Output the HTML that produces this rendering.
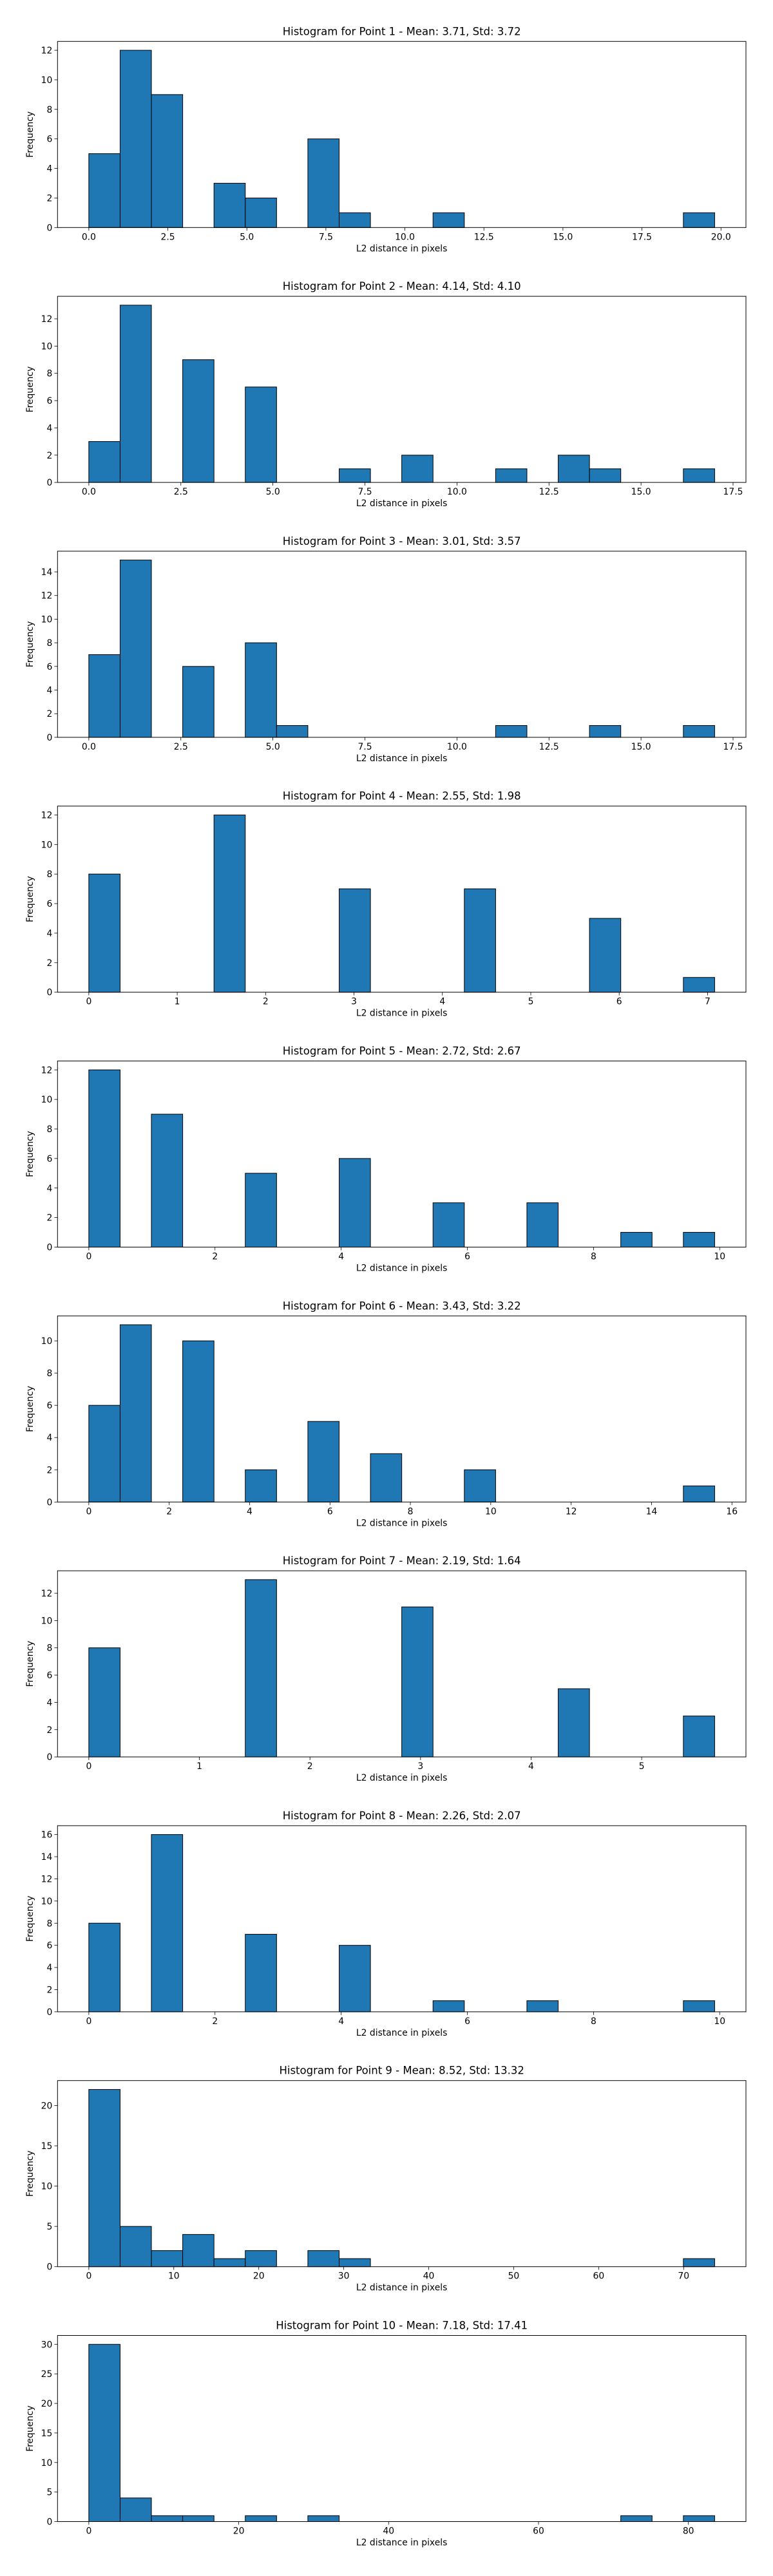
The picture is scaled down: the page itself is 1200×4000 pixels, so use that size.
<!DOCTYPE html>
<html><head><meta charset="utf-8">
<style>
html,body{margin:0;padding:0;background:#fff;}
svg{display:block;font-family:"DejaVu Sans","Liberation Sans",sans-serif;}
</style></head>
<body>
<svg id="fig" width="1200" height="4000" viewBox="0 0 1200 4000" xmlns="http://www.w3.org/2000/svg"></svg>
<script>
const titles = [
  "Histogram for Point 1 - Mean: 3.71, Std: 3.72",
  "Histogram for Point 2 - Mean: 4.14, Std: 4.10",
  "Histogram for Point 3 - Mean: 3.01, Std: 3.57",
  "Histogram for Point 4 - Mean: 2.55, Std: 1.98",
  "Histogram for Point 5 - Mean: 2.72, Std: 2.67",
  "Histogram for Point 6 - Mean: 3.43, Std: 3.22",
  "Histogram for Point 7 - Mean: 2.19, Std: 1.64",
  "Histogram for Point 8 - Mean: 2.26, Std: 2.07",
  "Histogram for Point 9 - Mean: 8.52, Std: 13.32",
  "Histogram for Point 10 - Mean: 7.18, Std: 17.41"
];
const dataMax = [19.80, 17.0, 17.0, 7.08, 9.92, 15.57, 5.66, 9.92, 73.65, 83.5];
const counts1 = [5,12,9,0,3,2,0,6,1,0,0,1,0,0,0,0,0,0,0,1];
const counts2 = [3,13,0,9,0,7,0,0,1,0,2,0,0,1,0,2,1,0,0,1];
const counts3 = [7,15,0,6,0,8,1,0,0,0,0,0,0,1,0,0,1,0,0,1];
const counts4 = [8,0,0,0,12,0,0,0,7,0,0,0,7,0,0,0,5,0,0,1];
const counts5 = [12,0,9,0,0,5,0,0,6,0,0,3,0,0,3,0,0,1,0,1];
const counts6 = [6,11,0,10,0,2,0,5,0,3,0,0,2,0,0,0,0,0,0,1];
const counts7 = [8,0,0,0,0,13,0,0,0,0,11,0,0,0,0,5,0,0,0,3];
const counts8 = [8,0,16,0,0,7,0,0,6,0,0,1,0,0,1,0,0,0,0,1];
const counts9 = [22,5,2,4,1,2,0,2,1,0,0,0,0,0,0,0,0,0,0,1];
const counts10 = [30,4,1,1,0,1,0,1,0,0,0,0,0,0,0,0,0,1,0,1];
const allCounts = [counts1,counts2,counts3,counts4,counts5,counts6,counts7,counts8,counts9,counts10];
const xTicks = [
  ["0.0","2.5","5.0","7.5","10.0","12.5","15.0","17.5","20.0"],
  ["0.0","2.5","5.0","7.5","10.0","12.5","15.0","17.5"],
  ["0.0","2.5","5.0","7.5","10.0","12.5","15.0","17.5"],
  ["0","1","2","3","4","5","6","7"],
  ["0","2","4","6","8","10"],
  ["0","2","4","6","8","10","12","14","16"],
  ["0","1","2","3","4","5"],
  ["0","2","4","6","8","10"],
  ["0","10","20","30","40","50","60","70"],
  ["0","20","40","60","80"]
];
const yTicks = [
  ["0","2","4","6","8","10","12"],
  ["0","2","4","6","8","10","12"],
  ["0","2","4","6","8","10","12","14"],
  ["0","2","4","6","8","10","12"],
  ["0","2","4","6","8","10","12"],
  ["0","2","4","6","8","10"],
  ["0","2","4","6","8","10","12"],
  ["0","2","4","6","8","10","12","14","16"],
  ["0","5","10","15","20"],
  ["0","5","10","15","20","25","30"]
];

const NS = "http://www.w3.org/2000/svg";
const fig = document.getElementById("fig");
function mk(tag, attrs, parent){
  const e = document.createElementNS(NS, tag);
  for (const k in attrs) e.setAttribute(k, attrs[k]);
  parent.appendChild(e);
  return e;
}
const L = 89.3, R = 1158, H = 289;
for (let p = 0; p < 10; p++) {
  const top = 64.3 + p * 395.8, bot = top + H;
  const g = mk("g", {}, fig);
  
  
  const mx = dataMax[p], c = allCounts[p];
  const x0 = -0.05 * mx, x1 = mx * 1.05;
  const ymax = Math.max(...c) * 1.05;
  const sx = v => L + (v - x0) / (x1 - x0) * (R - L);
  const sy = v => bot - v / ymax * H;
  const w = mx / 20;
  const t = mk("text", {x:(L+R)/2, y: top - 10, "text-anchor":"middle", "font-size":"16.5"}, g);
  t.textContent = titles[p];
  
  
  for (let i = 0; i < 20; i++) {
    const r = mk("rect", {x: sx(i*w), y: sy(c[i]), width: sx((i+1)*w) - sx(i*w), height: bot - sy(c[i]), fill:"#1f77b4", stroke:"#000", "stroke-width":"1"}, g);
    
    
  }
  const f = mk("rect", {x:L, y:top, width:R-L, height:H, fill:"none", stroke:"#000", "stroke-width":"1"}, g);
  
  
  xTicks[p].forEach(lbl => {
    const xv = sx(parseFloat(lbl));
    mk("line", {x1:xv, x2:xv, y1:bot, y2:bot+4.9, stroke:"#000", "stroke-width":"0.8"}, g);
    const tt = mk("text", {x:xv, y:bot+19, "text-anchor":"middle", "font-size":"13.9"}, g);
    tt.textContent = lbl;
    
    
  });
  yTicks[p].forEach(lbl => {
    const yv = sy(parseFloat(lbl));
    mk("line", {x1:L-4.9, x2:L, y1:yv, y2:yv, stroke:"#000", "stroke-width":"0.8"}, g);
    const tt = mk("text", {x:L-8, y:yv+5, "text-anchor":"end", "font-size":"13.9"}, g);
    tt.textContent = lbl;
    
    
  });
  const xl = mk("text", {x:(L+R)/2, y:bot+37, "text-anchor":"middle", "font-size":"13.9"}, g);
  xl.textContent = "L2 distance in pixels";
  
  
  const yc = top + H/2;
  const yl = mk("text", {x:51, y:yc, "text-anchor":"middle", "font-size":"13.9", transform:"rotate(-90 51 " + yc + ")"}, g);
  yl.textContent = "Frequency";
  
  
}
</script>
</body></html>
